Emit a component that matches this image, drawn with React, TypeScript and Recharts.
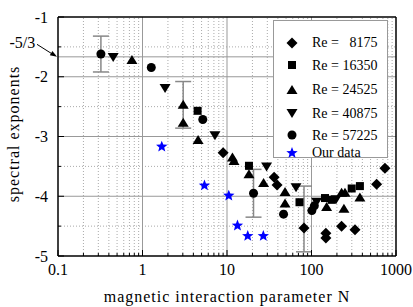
import React from "react";
import {
  ScatterChart,
  Scatter,
  XAxis,
  YAxis,
  ReferenceLine,
  ErrorBar,
} from "recharts";

// N (magnetic interaction parameter), s (spectral exponent), err (error bar)
const re8175 = [
  { n: 9.0, s: -3.27 },
  { n: 36.1, s: -3.68 },
  { n: 39.1, s: -3.81 },
  { n: 81.5, s: -4.53, err: [0.4, 0.7] },
  { n: 148, s: -4.62 },
  { n: 148, s: -4.7 },
  { n: 227, s: -4.5 },
  { n: 327, s: -4.56 },
  { n: 590, s: -3.8 },
  { n: 740, s: -3.53 },
];
const re16350 = [
  { n: 4.49, s: -2.57 },
  { n: 18.2, s: -3.49 },
  { n: 72.1, s: -4.1 },
  { n: 144.5, s: -4.03 },
  { n: 173, s: -4.06 },
  { n: 299, s: -3.87 },
  { n: 374, s: -3.83 },
];
const re24525 = [
  { n: 0.75, s: -1.72 },
  { n: 3.03, s: -2.47, err: 0.39 },
  { n: 3.03, s: -2.77 },
  { n: 4.55, s: -3.06 },
  { n: 11.6, s: -3.35 },
  { n: 12.1, s: -3.41 },
  { n: 18.2, s: -3.63 },
  { n: 27.1, s: -3.78 },
  { n: 48.6, s: -3.93 },
  { n: 48.6, s: -4.12 },
  { n: 151, s: -4.18 },
  { n: 227, s: -3.94 },
  { n: 249, s: -3.94 },
  { n: 242, s: -4.21 },
  { n: 374, s: -4.02 },
];
const re40875 = [
  { n: 0.45, s: -1.67 },
  { n: 1.85, s: -2.19 },
  { n: 7.2, s: -2.98 },
  { n: 29.4, s: -3.5 },
  { n: 65.6, s: -3.85 },
  { n: 115, s: -4.09 },
  { n: 195, s: -4.05 },
];
const re57225 = [
  { n: 0.322, s: -1.62, err: 0.3 },
  { n: 1.27, s: -1.845 },
  { n: 5.17, s: -2.715 },
  { n: 20.6, s: -3.95, err: 0.4 },
  { n: 46.7, s: -4.3 },
  { n: 101, s: -4.24 },
  { n: 108, s: -4.16 },
];
const ourData = [
  { n: 1.69, s: -3.17 },
  { n: 5.41, s: -3.82 },
  { n: 10.5, s: -3.99 },
  { n: 13.3, s: -4.49 },
  { n: 17.6, s: -4.665 },
  { n: 26.9, s: -4.665 },
];

const xMajorTicks = [0.1, 1, 10, 100, 1000];
const xMinorSteps = [2, 3, 4, 5, 6, 7, 8, 9];
const xMinorTicks = [0.1, 1, 10, 100].flatMap((d) =>
  xMinorSteps.map((m) => +(d * m).toPrecision(3))
);
const yMajorTicks = [-5, -4, -3, -2, -1];
const yMinorTicks = [-4.5, -3.5, -2.5, -1.5];
const kolmogorov = -5 / 3;

const font = '"Liberation Serif", "Times New Roman", serif';
const black = "#000";
const blue = "#0000ff";

const Diamond = ({ cx, cy }: any) => (
  <path
    d={`M${cx},${cy - 5.5}L${cx + 5.5},${cy}L${cx},${cy + 5.5}L${cx - 5.5},${cy}Z`}
    fill={black}
  />
);
const Square = ({ cx, cy }: any) => (
  <rect x={cx - 4} y={cy - 4} width={8} height={8} fill={black} />
);
const TriUp = ({ cx, cy }: any) => (
  <path
    d={`M${cx},${cy - 5}L${cx + 5.5},${cy + 4}L${cx - 5.5},${cy + 4}Z`}
    fill={black}
  />
);
const TriDown = ({ cx, cy }: any) => (
  <path
    d={`M${cx - 5.5},${cy - 4}L${cx + 5.5},${cy - 4}L${cx},${cy + 5}Z`}
    fill={black}
  />
);
const Dot = ({ cx, cy }: any) => <circle cx={cx} cy={cy} r={4.5} fill={black} />;
const Star = ({ cx, cy }: any) => {
  const pts: string[] = [];
  for (let i = 0; i < 10; i++) {
    const r = i % 2 === 0 ? 6 : 2.6;
    const a = -Math.PI / 2 + (i * Math.PI) / 5;
    pts.push(`${cx + r * Math.cos(a)},${cy + r * Math.sin(a)}`);
  }
  return <polygon points={pts.join(" ")} fill={blue} />;
};

const XTick = ({ x, y, payload }: any) => {
  const major = xMajorTicks.includes(payload.value);
  return (
    <g>
      <line x1={x} x2={x} y1={y} y2={y - (major ? 6 : 3)} stroke={black} />
      {major && (
        <text x={x} y={y + 19} textAnchor="middle" fontSize={16} fontFamily={font} fill={black}>
          {String(payload.value)}
        </text>
      )}
    </g>
  );
};

const YTick = ({ x, y, payload }: any) => {
  const major = yMajorTicks.includes(payload.value);
  return (
    <g>
      <line x1={x} x2={x + (major ? 6 : 3)} y1={y} y2={y} stroke={black} />
      {major && (
        <text x={x - 10} y={y} textAnchor="end" dominantBaseline="central" fontSize={16} fontFamily={font} fill={black}>
          {String(payload.value)}
        </text>
      )}
    </g>
  );
};

const FiveThirdsLabel = ({ viewBox }: any) => {
  const vx = viewBox.x;
  const vy = viewBox.y;
  return (
    <g>
      <text x={vx - 48.5} y={vy - 14} dominantBaseline="central" fontSize={16} fontFamily={font} fill={black}>
        -5/3
      </text>
      <line x1={vx - 21} y1={vy - 12.5} x2={vx - 6} y2={vy - 3} stroke={black} strokeWidth={1} />
      <polygon
        points={`${vx - 1},${vy} ${vx - 5.6},${vy - 5.8} ${vx - 8.2},${vy - 1.6}`}
        fill={black}
      />
    </g>
  );
};

const legendRows = [
  { label: "Re =   8175", Shape: Diamond, y: 21.7 },
  { label: "Re = 16350", Shape: Square, y: 44.3 },
  { label: "Re = 24525", Shape: TriUp, y: 68.5 },
  { label: "Re = 40875", Shape: TriDown, y: 92 },
  { label: "Re = 57225", Shape: Dot, y: 114 },
  { label: "Our data", Shape: Star, y: 131.5 },
];

export default function App() {
  return (
    <div style={{ position: "relative", width: 413, height: 307, background: "#fff" }}>
      <style>{`body{margin:0}`}</style>
      <ScatterChart width={413} height={307} margin={{ top: 17, right: 17, bottom: 0, left: 0 }}>
        <XAxis
          dataKey="n"
          type="number"
          scale="log"
          domain={[0.1, 1000]}
          allowDataOverflow
          ticks={[...xMajorTicks, ...xMinorTicks]}
          interval={0}
          height={51}
          tickSize={0}
          tickMargin={0}
          tick={<XTick />}
          axisLine={{ stroke: black, strokeWidth: 1.5 }}
          label={(p: any) => (
            <text
              x={227}
              y={302}
              textAnchor="middle"
              fontSize={16}
              letterSpacing={1}
              fontFamily={font}
              fill={black}
            >
              magnetic interaction parameter N
            </text>
          )}
        />
        <YAxis
          dataKey="s"
          type="number"
          domain={[-5, -1]}
          allowDataOverflow
          ticks={[...yMajorTicks, ...yMinorTicks]}
          interval={0}
          width={58}
          tickSize={0}
          tickMargin={0}
          tick={<YTick />}
          axisLine={{ stroke: black, strokeWidth: 1.5 }}
          label={(p: any) => (
            <text
              x={13}
              y={134}
              transform="rotate(-90 13 134)"
              textAnchor="middle"
              dominantBaseline="central"
              fontSize={16}
              letterSpacing={1}
              fontFamily={font}
              fill={black}
            >
              spectral exponents
            </text>
          )}
        />
        {xMinorTicks.map((v) => (
          <ReferenceLine key={"xm" + v} x={v} stroke="#aaa" strokeDasharray="1 2" />
        ))}
        {yMinorTicks.map((v) => (
          <ReferenceLine key={"ym" + v} y={v} stroke="#aaa" strokeDasharray="1 2" />
        ))}
        {[1, 10, 100].map((v) => (
          <ReferenceLine key={"xM" + v} x={v} stroke="#999" />
        ))}
        {[-4, -3, -2].map((v) => (
          <ReferenceLine key={"yM" + v} y={v} stroke="#999" />
        ))}
        <ReferenceLine y={kolmogorov} stroke="#999" label={(p: any) => <FiveThirdsLabel {...p} />} />
        <ReferenceLine y={-1} stroke={black} strokeWidth={1.5} />
        <ReferenceLine x={1000} stroke={black} strokeWidth={1.5} />
        <Scatter data={re8175} shape={<Diamond />} isAnimationActive={false}>
          <ErrorBar dataKey="err" direction="y" width={8} stroke="#888" />
        </Scatter>
        <Scatter data={re16350} shape={<Square />} isAnimationActive={false} />
        <Scatter data={re24525} shape={<TriUp />} isAnimationActive={false}>
          <ErrorBar dataKey="err" direction="y" width={8} stroke="#888" />
        </Scatter>
        <Scatter data={re40875} shape={<TriDown />} isAnimationActive={false} />
        <Scatter data={re57225} shape={<Dot />} isAnimationActive={false}>
          <ErrorBar dataKey="err" direction="y" width={8} stroke="#888" />
        </Scatter>
        <Scatter data={ourData} shape={<Star />} isAnimationActive={false} />
      </ScatterChart>
      <div
        style={{
          position: "absolute",
          left: 273,
          top: 20,
          width: 115,
          height: 138,
          border: "1px solid #999",
          background: "#fff",
          boxSizing: "border-box",
        }}
      >
        {legendRows.map(({ label, Shape, y }) => (
          <div key={label}>
            <svg
              width={14}
              height={14}
              style={{ position: "absolute", left: 11, top: y - 7 }}
            >
              <Shape cx={7} cy={7} />
            </svg>
            <span
              style={{
                position: "absolute",
                left: 38,
                top: y - 6.5,
                height: 13,
                fontFamily: font,
                fontSize: 14,
                lineHeight: "13px",
                whiteSpace: "pre",
                color: black,
              }}
            >
              {label}
            </span>
          </div>
        ))}
      </div>
    </div>
  );
}
